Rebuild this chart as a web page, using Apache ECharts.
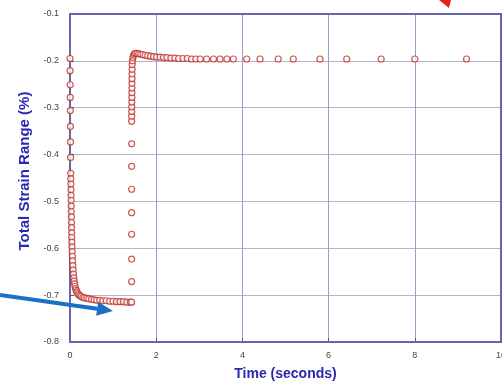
<!DOCTYPE html>
<html>
<head>
<meta charset="utf-8">
<script src="https://cdn.jsdelivr.net/npm/echarts@6/dist/echarts.min.js"></script>
<style>
  html, body { margin: 0; padding: 0; background: #fff; }
  #chart { width: 502px; height: 383px; }
</style>
</head>
<body>
<div id="chart"></div>
<script>
// Stress-relaxation branch: strain drops from -0.2 % right after loading
const relaxTime = [0.000, 0.002, 0.004, 0.006, 0.008, 0.010, 0.012, 0.014, 0.016, 0.018,
  0.020, 0.022, 0.024, 0.026, 0.028, 0.030, 0.032, 0.034, 0.036, 0.038,
  0.040, 0.043, 0.046, 0.050, 0.055, 0.060, 0.066, 0.073, 0.080, 0.088,
  0.097, 0.107, 0.118, 0.130, 0.145, 0.160, 0.180, 0.200, 0.230, 0.260,
  0.300, 0.340, 0.390, 0.440, 0.500, 0.560, 0.620, 0.690, 0.760, 0.840,
  0.920, 1.000, 1.080, 1.160, 1.240, 1.320, 1.400];
const relaxStrain = [-0.195, -0.221, -0.251, -0.278, -0.306, -0.340, -0.373, -0.406, -0.440, -0.452,
  -0.463, -0.475, -0.487, -0.498, -0.510, -0.522, -0.533, -0.545, -0.556, -0.567,
  -0.577, -0.587, -0.597, -0.607, -0.617, -0.627, -0.637, -0.646, -0.655, -0.663,
  -0.670, -0.676, -0.681, -0.686, -0.690, -0.693, -0.696, -0.699, -0.701, -0.703,
  -0.705, -0.706, -0.707, -0.708, -0.709, -0.710, -0.711, -0.711, -0.712, -0.712,
  -0.713, -0.713, -0.714, -0.714, -0.714, -0.715, -0.715];

// Recovery branch: strain jumps back toward -0.2 %
const riseTime = [1.430, 1.430, 1.430, 1.430, 1.430, 1.430, 1.430, 1.430, 1.430,
  1.431, 1.432, 1.433, 1.434, 1.435, 1.436, 1.437, 1.438, 1.439, 1.440, 1.442, 1.444,
  1.450, 1.460, 1.475, 1.495, 1.520, 1.555, 1.595, 1.640, 1.690, 1.745, 1.805,
  1.870, 1.940, 2.010, 2.090, 2.170, 2.250, 2.340, 2.430, 2.520, 2.620, 2.720, 2.820, 2.920];
const riseStrain = [-0.715, -0.671, -0.623, -0.570, -0.524, -0.474, -0.425, -0.377, -0.329,
  -0.318, -0.308, -0.298, -0.288, -0.278, -0.268, -0.258, -0.248, -0.238, -0.228, -0.218, -0.208,
  -0.200, -0.193, -0.188, -0.185, -0.184, -0.184, -0.185, -0.186, -0.187, -0.188, -0.189,
  -0.190, -0.191, -0.192, -0.192, -0.193, -0.193, -0.194, -0.194, -0.195, -0.195, -0.195, -0.196, -0.196];

// Steady plateau, sparser sampling
const plateauTime = [3.02, 3.17, 3.33, 3.48, 3.64, 3.79, 4.10, 4.41, 4.83, 5.18, 5.80, 6.42, 7.22, 8.00, 9.20];
const plateauStrain = [-0.196, -0.196, -0.196, -0.196, -0.196, -0.196, -0.196, -0.196, -0.196, -0.196,
  -0.196, -0.196, -0.196, -0.196, -0.196];

// Axis ticks
const xTicks = [0, 2, 4, 6, 8, 10];
const yTicks = [-0.8, -0.7, -0.6, -0.5, -0.4, -0.3, -0.2, -0.1];

function pairs(xs, ys) { return xs.map((x, i) => [x, ys[i]]); }
const points = [].concat(
  pairs(relaxTime, relaxStrain),
  pairs(riseTime, riseStrain),
  pairs(plateauTime, plateauStrain)
);

const chart = echarts.init(document.getElementById('chart'), null, { renderer: 'canvas' });

// Blue annotation arrow geometry
const tail = [0, 295], tip = [113, 311];
const dx = tip[0] - tail[0], dy = tip[1] - tail[1];
const len = Math.hypot(dx, dy), ux = dx / len, uy = dy / len;
const headLen = 16, headHalf = 7;
const base = [tip[0] - ux * headLen, tip[1] - uy * headLen];

const axisFont = { fontFamily: 'Liberation Sans', fontSize: 9, color: '#444' };

chart.setOption({
  animation: false,
  backgroundColor: '#fff',
  grid: { left: 70, top: 14, right: 1, bottom: 41, containLabel: false, outerBoundsMode: 'none' },
  xAxis: {
    type: 'value', min: xTicks[0], max: xTicks[xTicks.length - 1], interval: 2,
    name: 'Time (seconds)', nameLocation: 'middle', nameGap: 25,
    nameTextStyle: { fontFamily: 'Liberation Sans', fontSize: 14, fontWeight: 'bold', color: '#2828b0' },
    axisLine: { show: true, onZero: false, lineStyle: { color: '#6666aa', width: 2 } },
    axisTick: { show: true, inside: true, length: 4, lineStyle: { color: '#555577' } },
    axisLabel: Object.assign({ margin: 9, hideOverlap: false }, axisFont),
    splitLine: { show: true, lineStyle: { color: '#9c9cc8', width: 1 } }
  },
  yAxis: {
    type: 'value', min: yTicks[0], max: yTicks[yTicks.length - 1], interval: 0.1,
    name: 'Total Strain Range (%)', nameLocation: 'middle', nameGap: 32,
    nameTextStyle: { fontFamily: 'Liberation Sans', fontSize: 15, fontWeight: 'bold', color: '#2828b0',
      padding: [0, 0, 0, 14] },
    axisLine: { show: true, onZero: false, lineStyle: { color: '#6666aa', width: 2 } },
    axisTick: { show: true, inside: true, length: 4, lineStyle: { color: '#555577' } },
    axisLabel: Object.assign({ margin: 11, formatter: v => v.toFixed(1) }, axisFont),
    splitLine: { show: true, lineStyle: { color: '#b4b4cc', width: 1 } }
  },
  series: [{
    type: 'scatter',
    data: points,
    symbol: 'circle',
    symbolSize: 6,
    itemStyle: { color: '#ffffff', borderColor: '#c0302c', borderWidth: 1.2 },
    z: 5
  }],
  graphic: [
    // plot frame top/right edges
    { type: 'rect', shape: { x: 70, y: 14, width: 431, height: 328 },
      style: { fill: 'none', stroke: '#6666aa', lineWidth: 2 }, z: 1, silent: true },
    // blue arrow
    { type: 'line', shape: { x1: tail[0], y1: tail[1], x2: base[0], y2: base[1] },
      style: { stroke: '#1d6fc2', lineWidth: 4 }, z: 10 },
    { type: 'polygon', shape: { points: [
        tip,
        [base[0] - uy * headHalf, base[1] + ux * headHalf],
        [base[0] + uy * headHalf, base[1] - ux * headHalf]
      ] }, style: { fill: '#1d6fc2' }, z: 10 },
    // red arrowhead at the top
    { type: 'polygon', shape: { points: [[439, 0], [451, 0], [449, 8]] },
      style: { fill: '#e8201c' }, z: 10 }
  ]
});
</script>
</body>
</html>
